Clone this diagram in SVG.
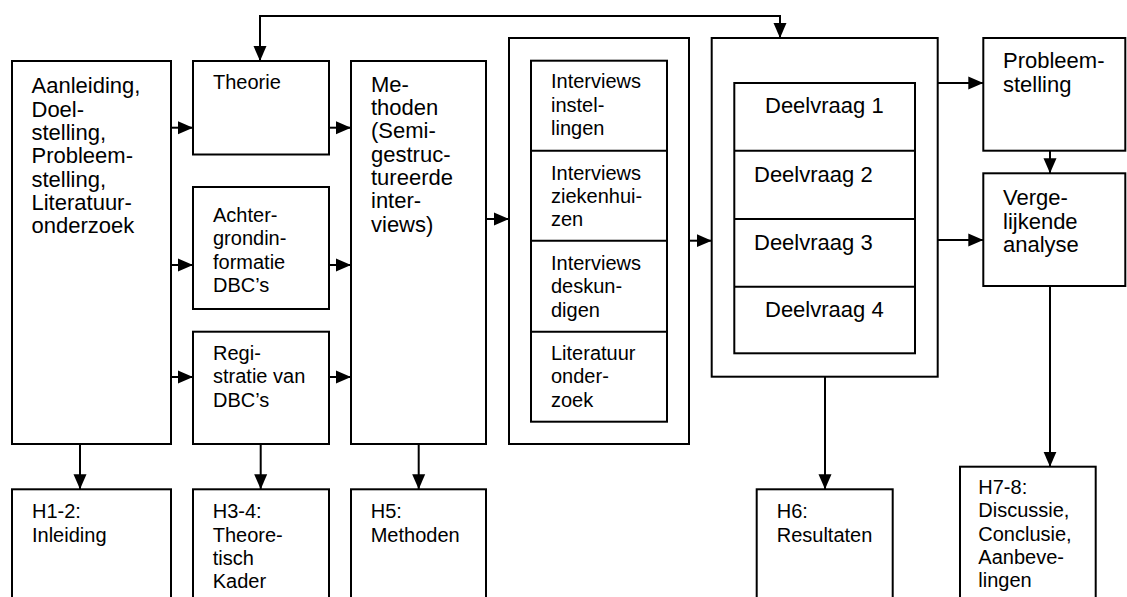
<svg xmlns="http://www.w3.org/2000/svg" width="1127" height="597" viewBox="0 0 1127 597">
<defs>
<style>
.b{fill:#fff;stroke:#000;stroke-width:2}
.d{stroke:#000;stroke-width:2;fill:none}
.c{stroke:#000;stroke-width:2;fill:none;marker-end:url(#ah)}
text{font-family:"Liberation Sans",Arial,sans-serif;fill:#000}
.L{font-size:22px}
.S{font-size:20px}
</style>
<marker id="ah" markerUnits="userSpaceOnUse" markerWidth="16" markerHeight="14" refX="15" refY="7" orient="auto-start-reverse" viewBox="0 0 16 14">
<path d="M0,0.5 L15,7 L0,13.5 Z" fill="#000"/>
</marker>
</defs>
<rect width="1127" height="597" fill="#fff"/>

<g id="aanleiding">
<rect class="b" x="12" y="61" width="159" height="383"/>
<text class="L" x="31.5"><tspan x="31.5" y="93.3">Aanleiding,</tspan><tspan x="31.5" y="116.6">Doel-</tspan><tspan x="31.5" y="139.9">stelling,</tspan><tspan x="31.5" y="163.2">Probleem-</tspan><tspan x="31.5" y="186.5">stelling,</tspan><tspan x="31.5" y="209.8">Literatuur-</tspan><tspan x="31.5" y="233.1">onderzoek</tspan></text>
</g>

<g id="theorie">
<rect class="b" x="193" y="61" width="136" height="93.5"/>
<text class="S"><tspan x="213" y="89">Theorie</tspan></text>
</g>

<g id="achtergrond">
<rect class="b" x="193" y="187" width="136" height="122"/>
<text class="S"><tspan x="213" y="222">Achter-</tspan><tspan x="213" y="245.3">grondin-</tspan><tspan x="213" y="268.6">formatie</tspan><tspan x="213" y="291.9">DBC’s</tspan></text>
</g>

<g id="registratie">
<rect class="b" x="193" y="331.7" width="136" height="112.3"/>
<text class="S"><tspan x="213" y="360">Regi-</tspan><tspan x="213" y="383.3">stratie van</tspan><tspan x="213" y="406.6">DBC’s</tspan></text>
</g>

<g id="methoden">
<rect class="b" x="351" y="61" width="135" height="383"/>
<text class="L"><tspan x="371" y="91.7">Me-</tspan><tspan x="371" y="115">thoden</tspan><tspan x="371" y="138.3">(Semi-</tspan><tspan x="371" y="161.6">gestruc-</tspan><tspan x="371" y="184.9">tureerde</tspan><tspan x="371" y="208.2">inter-</tspan><tspan x="371" y="231.5">views)</tspan></text>
</g>

<g id="interviews">
<rect class="b" x="509" y="38" width="180" height="406"/>
<rect class="b" x="531" y="60.7" width="136" height="361"/>
<line class="d" x1="531" y1="150.7" x2="667" y2="150.7"/>
<line class="d" x1="531" y1="240.7" x2="667" y2="240.7"/>
<line class="d" x1="531" y1="331.7" x2="667" y2="331.7"/>
<text class="S"><tspan x="551" y="88.3">Interviews</tspan><tspan x="551" y="111.6">instel-</tspan><tspan x="551" y="134.9">lingen</tspan></text>
<text class="S"><tspan x="551" y="179.5">Interviews</tspan><tspan x="551" y="202.8">ziekenhui-</tspan><tspan x="551" y="226.1">zen</tspan></text>
<text class="S"><tspan x="551" y="270">Interviews</tspan><tspan x="551" y="293.3">deskun-</tspan><tspan x="551" y="316.6">digen</tspan></text>
<text class="S"><tspan x="551" y="360">Literatuur</tspan><tspan x="551" y="383.3">onder-</tspan><tspan x="551" y="406.6">zoek</tspan></text>
</g>

<g id="deelvragen">
<rect class="b" x="711.7" y="38" width="226" height="338.7"/>
<rect class="b" x="734.3" y="83" width="180.7" height="270.3"/>
<line class="d" x1="734.3" y1="150.7" x2="915" y2="150.7"/>
<line class="d" x1="734.3" y1="219" x2="915" y2="219"/>
<line class="d" x1="734.3" y1="286.7" x2="915" y2="286.7"/>
<text class="L" x="765" y="113.3">Deelvraag 1</text>
<text class="L" x="754" y="181.7">Deelvraag 2</text>
<text class="L" x="754" y="250">Deelvraag 3</text>
<text class="L" x="765" y="316.7">Deelvraag 4</text>
</g>

<g id="probleemstelling">
<rect class="b" x="983.3" y="38" width="142" height="112.7"/>
<text class="L"><tspan x="1003" y="68.3">Probleem-</tspan><tspan x="1003" y="91.6">stelling</tspan></text>
</g>

<g id="vergelijkende">
<rect class="b" x="983.3" y="173.3" width="142" height="112.7"/>
<text class="L"><tspan x="1003" y="205.3">Verge-</tspan><tspan x="1003" y="228.6">lijkende</tspan><tspan x="1003" y="251.9">analyse</tspan></text>
</g>

<g id="h1-2">
<rect class="b" x="12" y="489.3" width="159" height="130"/>
<text class="S"><tspan x="32" y="518.3">H1-2:</tspan><tspan x="32" y="541.6">Inleiding</tspan></text>
</g>

<g id="h3-4">
<rect class="b" x="193" y="489.3" width="136" height="130"/>
<text class="S"><tspan x="212.7" y="518.3">H3-4:</tspan><tspan x="212.7" y="541.6">Theore-</tspan><tspan x="212.7" y="564.9">tisch</tspan><tspan x="212.7" y="588.2">Kader</tspan></text>
</g>

<g id="h5">
<rect class="b" x="351" y="489.3" width="135" height="130"/>
<text class="S"><tspan x="370.7" y="518.3">H5:</tspan><tspan x="370.7" y="541.6">Methoden</tspan></text>
</g>

<g id="h6">
<rect class="b" x="756.7" y="489.3" width="136" height="130"/>
<text class="S"><tspan x="776.7" y="518.3">H6:</tspan><tspan x="776.7" y="541.6">Resultaten</tspan></text>
</g>

<g id="h7-8">
<rect class="b" x="960" y="466.7" width="135.7" height="150"/>
<text class="S"><tspan x="978.3" y="494">H7-8:</tspan><tspan x="978.3" y="517.3">Discussie,</tspan><tspan x="978.3" y="540.6">Conclusie,</tspan><tspan x="978.3" y="563.9">Aanbeve-</tspan><tspan x="978.3" y="587.2">lingen</tspan></text>
</g>

<g id="connectors">
<path class="c" d="M171,127.7 H193"/>
<path class="c" d="M171,265 H193"/>
<path class="c" d="M171,377 H193"/>
<path class="c" d="M329,127.7 H351"/>
<path class="c" d="M329,265 H351"/>
<path class="c" d="M329,377 H351"/>
<path class="c" d="M486,219 H509"/>
<path class="c" d="M689,240.7 H711.7"/>
<path class="c" d="M938,83 H983.3"/>
<path class="c" d="M938,240 H983.3"/>
<path class="c" d="M1050,150.7 V173.3"/>
<path class="c" d="M1050,286 V466.7"/>
<path class="c" d="M825,376.7 V489.3"/>
<path class="c" d="M80,444 V489.3"/>
<path class="c" d="M260.7,444 V489.3"/>
<path class="c" d="M418.7,444 V489.3"/>
<path class="c" d="M260,61 V16 H780 V38" style="marker-start:url(#ah)"/>
</g>
</svg>
